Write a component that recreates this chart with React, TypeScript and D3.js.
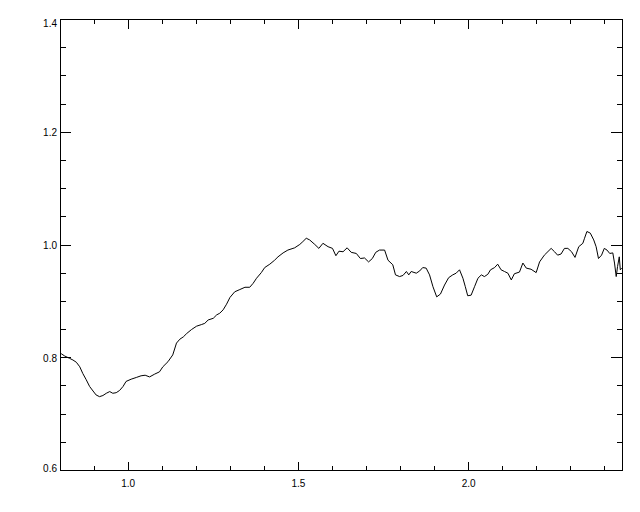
import React, { useEffect, useRef } from 'react';
import * as d3 from 'd3';

// spectrum
const waveX = [
  0.800, 0.804, 0.814, 0.828, 0.838, 0.848, 0.858, 0.867, 0.877, 0.887,
  0.897, 0.906, 0.916, 0.926, 0.936, 0.946, 0.955, 0.965, 0.975, 0.985,
  0.994, 1.009, 1.024, 1.038, 1.050, 1.063, 1.078, 1.092, 1.102, 1.117,
  1.131, 1.142, 1.152, 1.162, 1.172, 1.186, 1.201, 1.216, 1.225, 1.235,
  1.250, 1.260, 1.269, 1.279, 1.289, 1.299, 1.313, 1.328, 1.343, 1.357,
  1.367, 1.377, 1.391, 1.401, 1.416, 1.430, 1.440, 1.455, 1.469, 1.484,
  1.489, 1.504, 1.513, 1.523, 1.533, 1.548, 1.560, 1.572, 1.587, 1.600,
  1.610, 1.619, 1.631, 1.643, 1.655, 1.670, 1.682, 1.694, 1.706, 1.717,
  1.727, 1.738, 1.753, 1.763, 1.777, 1.785, 1.797, 1.807, 1.817, 1.824,
  1.831, 1.846, 1.856, 1.865, 1.875, 1.885, 1.895, 1.906, 1.917, 1.929,
  1.941, 1.953, 1.963, 1.973, 1.983, 1.990, 1.997, 2.007, 2.017, 2.027,
  2.037, 2.046, 2.056, 2.064, 2.076, 2.085, 2.095, 2.105, 2.115, 2.125,
  2.134, 2.149, 2.159, 2.169, 2.183, 2.198, 2.208, 2.222, 2.242, 2.252,
  2.261, 2.271, 2.281, 2.291, 2.302, 2.312, 2.323, 2.335, 2.340, 2.347,
  2.357, 2.367, 2.374, 2.381, 2.390, 2.398, 2.406, 2.414, 2.423, 2.428,
  2.433, 2.437, 2.442, 2.445, 2.449,
];
const fluxY = [
  0.808, 0.807, 0.803, 0.799, 0.796, 0.792, 0.784, 0.772, 0.761, 0.749,
  0.741, 0.734, 0.731, 0.733, 0.737, 0.740, 0.737, 0.738, 0.742, 0.749,
  0.758, 0.762, 0.765, 0.768, 0.769, 0.766, 0.771, 0.775, 0.784, 0.793,
  0.805, 0.826, 0.833, 0.837, 0.843, 0.850, 0.856, 0.859, 0.861, 0.867,
  0.870, 0.876, 0.879, 0.885, 0.895, 0.907, 0.917, 0.921, 0.925, 0.925,
  0.932, 0.941, 0.951, 0.960, 0.966, 0.973, 0.979, 0.986, 0.991, 0.994,
  0.995, 1.001, 1.006, 1.012, 1.009, 1.001, 0.994, 1.003, 0.997, 0.994,
  0.981, 0.989, 0.988, 0.995, 0.987, 0.985, 0.976, 0.977, 0.970, 0.976,
  0.987, 0.991, 0.991, 0.973, 0.965, 0.947, 0.944, 0.946, 0.953, 0.947,
  0.953, 0.950, 0.954, 0.960, 0.959, 0.947, 0.926, 0.908, 0.913, 0.929,
  0.942, 0.947, 0.950, 0.956, 0.941, 0.926, 0.910, 0.911, 0.926, 0.941,
  0.947, 0.944, 0.948, 0.956, 0.960, 0.966, 0.956, 0.953, 0.950, 0.938,
  0.949, 0.952, 0.968, 0.959, 0.957, 0.951, 0.970, 0.982, 0.994, 0.988,
  0.982, 0.984, 0.994, 0.994, 0.988, 0.978, 0.997, 1.003, 1.012, 1.024,
  1.021, 1.009, 0.997, 0.976, 0.982, 0.994, 0.991, 0.985, 0.986, 0.968,
  0.944, 0.962, 0.979, 0.956, 0.959,
];

const xDomain = [0.8, 2.45];
const yDomain = [0.6, 1.4];
const xMajor = [1.0, 1.5, 2.0];
const xMinor = [0.9, 1.1, 1.2, 1.3, 1.4, 1.6, 1.7, 1.8, 1.9, 2.1, 2.2, 2.3, 2.4];
const yMajor = [0.6, 0.8, 1.0, 1.2, 1.4];
const yMinor = [0.65, 0.7, 0.75, 0.85, 0.9, 0.95, 1.05, 1.1, 1.15, 1.25, 1.3, 1.35];

function App() {
  const ref = useRef<SVGSVGElement>(null);

  useEffect(() => {
    const svg = d3.select(ref.current);
    svg.selectAll('*').remove();

    const left = 60, right = 622, top = 19.5, bottom = 470.5;
    const x = d3.scaleLinear().domain(xDomain).range([left, right]);
    const y = d3.scaleLinear().domain(yDomain).range([bottom, top]);

    const g = svg.append('g')
      .attr('stroke', '#000')
      .attr('fill', 'none')
      .attr('shape-rendering', 'crispEdges');

    // frame
    g.append('rect')
      .attr('x', left).attr('y', top)
      .attr('width', right - left).attr('height', bottom - top)
      .attr('stroke-width', 1);

    const xTickLen = 9, yTickLen = 11;
    const xt = (v: number, len: number) => {
      g.append('line').attr('x1', x(v)).attr('x2', x(v)).attr('y1', bottom).attr('y2', bottom - len);
      g.append('line').attr('x1', x(v)).attr('x2', x(v)).attr('y1', top).attr('y2', top + len);
    };
    const yt = (v: number, len: number) => {
      g.append('line').attr('x1', left).attr('x2', left + len).attr('y1', y(v)).attr('y2', y(v));
      g.append('line').attr('x1', right).attr('x2', right - len).attr('y1', y(v)).attr('y2', y(v));
    };
    xMajor.forEach((v) => xt(v, xTickLen));
    xMinor.forEach((v) => xt(v, xTickLen / 2));
    yMajor.forEach((v) => yt(v, yTickLen));
    yMinor.forEach((v) => yt(v, yTickLen / 2));

    const labels = svg.append('g')
      .attr('font-family', 'Liberation Sans, Arial, sans-serif')
      .attr('font-size', 10)
      .attr('fill', '#000');

    labels.selectAll('text.xl')
      .data(xMajor)
      .enter()
      .append('text')
      .attr('x', (d) => x(d))
      .attr('y', 487)
      .attr('text-anchor', 'middle')
      .text((d) => d.toFixed(1));

    labels.selectAll('text.yl')
      .data(yMajor)
      .enter()
      .append('text')
      .attr('x', 57)
      .attr('y', (d) => Math.min(Math.max(y(d) + 4, top + 7), bottom + 1))
      .attr('text-anchor', 'end')
      .text((d) => d.toFixed(1));

    const line = d3.line<number>()
      .x((d) => x(d))
      .y((_, i) => y(fluxY[i]));

    svg.append('path')
      .datum(waveX)
      .attr('d', line)
      .attr('fill', 'none')
      .attr('stroke', '#000')
      .attr('stroke-width', 1);
  }, []);

  return (
    <svg
      ref={ref}
      width={640}
      height={512}
      style={{ position: 'absolute', left: 0, top: 0, background: '#fff' }}
    />
  );
}

export default App;
